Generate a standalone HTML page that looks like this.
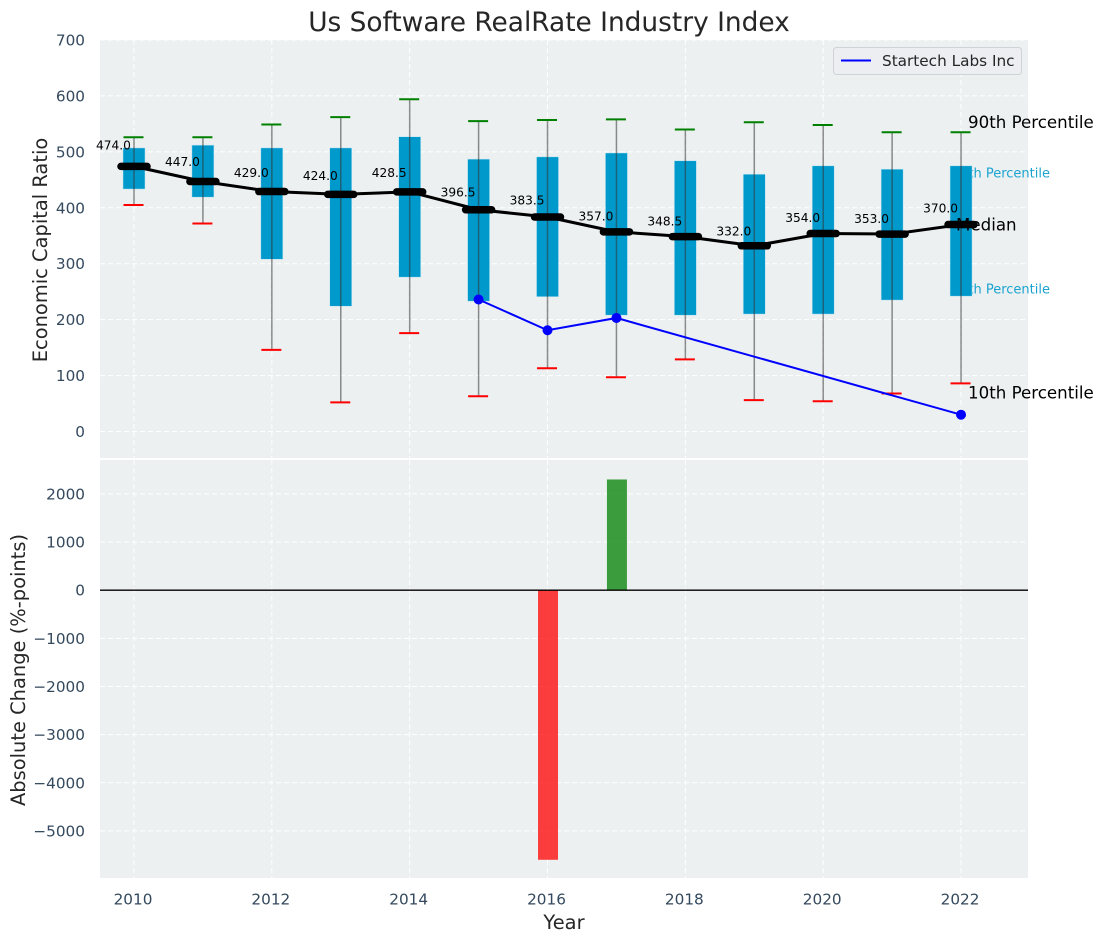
<!DOCTYPE html>
<html>
<head>
<meta charset="utf-8">
<title>Us Software RealRate Industry Index</title>
<style>
html,body{margin:0;padding:0;background:#fff;}
svg{display:block;font-family:"DejaVu Sans","Liberation Sans",sans-serif;}
</style>
</head>
<body>
<svg id="chart" width="1103" height="942" viewBox="0 0 1103 942" xmlns="http://www.w3.org/2000/svg"></svg>
<script>
const years = [2010,2011,2012,2013,2014,2015,2016,2017,2018,2019,2020,2021,2022];
const p90 = [526,526,549,562,594,555,557,558,540,553,548,535,535];
const p75 = [507,512,507,507,527,487,491,498,484,460,475,469,475];
const medians = [474,447,429,424,428.5,396.5,383.5,357,348.5,332,354,353,370];
const p25 = [433.5,419,308,224,276,233,241,208,208,210,210,235,242];
const p10 = [405,372,146,52,176,63,113,97,129,56,54,68,86];
const companyYears = [2015,2016,2017,2022];
const companyValues = [236,181,203,30];
const changeYears = [2016,2017];
const changeValues = [-5600,2300];
const xTicks = [2010,2012,2014,2016,2018,2020,2022];
const yTicksTop = [0,100,200,300,400,500,600,700];
const yTicksBottom = [-5000,-4000,-3000,-2000,-1000,0,1000,2000];

const svg = document.getElementById('chart');
const NS = 'http://www.w3.org/2000/svg';
const xs = v => 134 + (v - 2010) * 68.92;
const yTop = v => 431.5 - v * 0.5593;
const yBot = v => 590.2 - v * 0.04814;

function add(tag, props, parent) {
  const el = document.createElementNS(NS, tag);
  for (const k in props) el.setAttribute(k, props[k]);
  (parent || svg).appendChild(el);
  return el;
}
function line(x1, y1, x2, y2, stroke, w, extra) {
  return add('line', Object.assign({x1, y1, x2, y2, stroke, 'stroke-width': w}, extra || {}));
}
function label(x, y, str, size, fill, anchor, extra) {
  const el = add('text', Object.assign({x, y, 'font-size': size, fill, 'text-anchor': anchor || 'middle'}, extra || {}));
  el.textContent = str;
  return el;
}
const dash = {'stroke-dasharray': '5 3'};
const tickColor = '#34495e';

let el;
el = add('rect', {x: 100, y: 40, width: 928, height: 418, fill: '#ecf0f1'});


el = add('rect', {x: 100, y: 460, width: 928, height: 418, fill: '#ecf0f1'});



xTicks.forEach(t => {
  el = line(xs(t), 40, xs(t), 458, '#fff', 1, dash);
  
  
  el = line(xs(t), 460, xs(t), 878, '#fff', 1, dash);
  
  
  el = label(xs(t) - 1, 904.5, String(t), 15.28, tickColor);
  
  
});
yTicksTop.forEach(t => {
  el = line(100, yTop(t), 1028, yTop(t), '#fff', 1, dash);
  
  
  el = label(85, yTop(t) + 5.5, String(t), 15.28, tickColor, 'end');
  
  
});
yTicksBottom.forEach(t => {
  el = line(100, yBot(t), 1028, yBot(t), '#fff', 1, dash);
  
  
  el = label(85, yBot(t) + 5.5, String(t).replace('-', '\u2212'), 15.28, tickColor, 'end');
  
  
});

el = label(1050, 177.5, '75th Percentile', 13, '#1ba3d0', 'end');


el = label(1050, 293.5, '25th Percentile', 13, '#1ba3d0', 'end');



years.forEach((yr, i) => {
  const x = xs(yr);
  el = add('rect', {x: x - 11, y: yTop(p75[i]), width: 22, height: yTop(p25[i]) - yTop(p75[i]), fill: '#0099cc', stroke: '#bfe5f2', 'stroke-width': 0.5});
  
  
  el = line(x, yTop(p90[i]), x, yTop(p10[i]), '#333', 1.5, {'stroke-opacity': 0.55});
  
  
  el = line(x - 10.5, yTop(p90[i]), x + 9.5, yTop(p90[i]), '#008000', 2);
  
  
  el = line(x - 10.5, yTop(p10[i]), x + 9.5, yTop(p10[i]), '#ff0000', 2);
  
  
});

el = add('polyline', {points: companyYears.map((yr, i) => xs(yr) + ',' + yTop(companyValues[i])).join(' '), fill: 'none', stroke: '#0000ff', 'stroke-width': 2});


companyYears.forEach((yr, i) => {
  el = add('circle', {cx: xs(yr), cy: yTop(companyValues[i]), r: 5, fill: '#0000ff'});
  
  
});

el = label(968, 128, '90th Percentile', 16.67, '#000', 'start');


el = label(956, 230.5, 'Median', 16.67, '#000', 'start');


el = label(968, 398.5, '10th Percentile', 16.67, '#000', 'start');



el = add('polyline', {points: years.map((yr, i) => xs(yr) + ',' + yTop(medians[i])).join(' '), fill: 'none', stroke: '#000', 'stroke-width': 3});


years.forEach((yr, i) => {
  const x = xs(yr), y = yTop(medians[i]);
  el = line(x - 13, y, x + 13, y, '#000', 7.5, {'stroke-linecap': 'round'});
  
  
  el = label(x - 20.5, yTop(medians[i] * 1.08) + 4.5, medians[i].toFixed(1), 12.2, '#000');
  
  
});

changeYears.forEach((yr, i) => {
  const v = changeValues[i];
  const y0 = Math.min(yBot(0), yBot(v));
  const h = Math.abs(yBot(v) - yBot(0));
  el = add('rect', {x: xs(yr) - 9.5, y: y0, width: 20, height: h, fill: v < 0 ? '#ff0000' : '#008000', 'fill-opacity': 0.75});
  
  
});
el = line(100, yBot(0), 1028, yBot(0), '#000', 1.4);



el = add('rect', {x: 833.5, y: 47.5, width: 188, height: 27, rx: 3, fill: '#ecedf2', 'fill-opacity': 0.85, stroke: '#cfd2d6', 'stroke-width': 1});


el = line(841, 60.5, 871, 60.5, '#0000ff', 2);


el = label(882, 66, 'Startech Labs Inc', 15.28, '#262626', 'start');



el = label(549, 31, 'Us Software RealRate Industry Index', 26.4, '#262626');


el = label(564, 929, 'Year', 19.44, '#262626');


el = label(0, 0, 'Economic Capital Ratio', 19.44, '#262626', 'middle', {transform: 'translate(47 250) rotate(-90)'});


el = label(0, 0, 'Absolute Change (%-points)', 19.44, '#262626', 'middle', {transform: 'translate(25 670) rotate(-90)'});


</script>
</body>
</html>
